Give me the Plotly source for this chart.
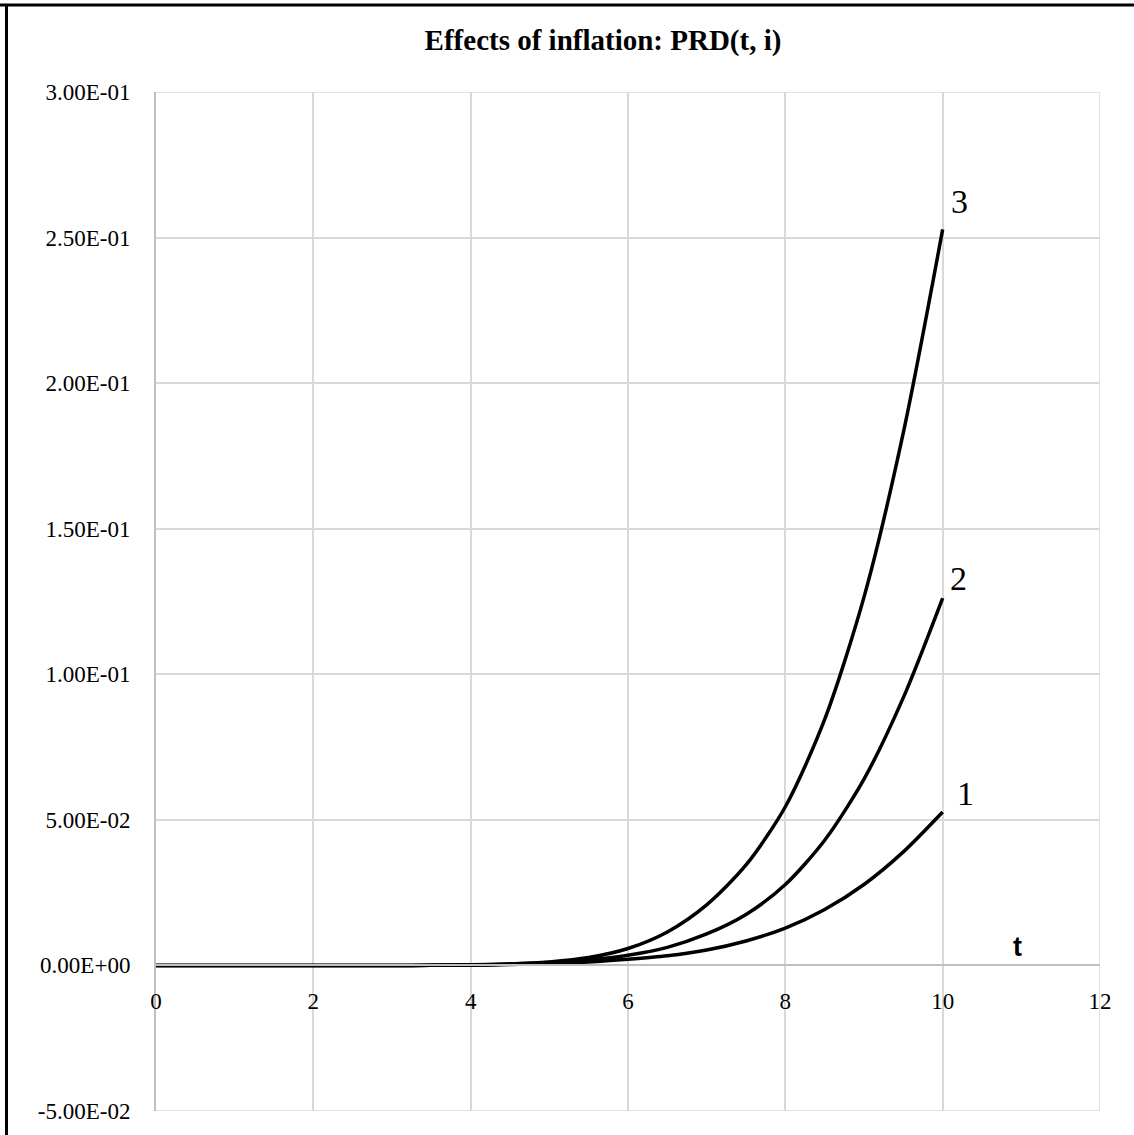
import plotly.graph_objects as go

# ---- data ----
t_vals = [0, 0.5, 1, 1.5, 2, 2.5, 3, 3.5, 4, 4.5, 5, 5.5, 6, 6.5, 7, 7.5, 8, 8.5, 9, 9.5, 10]
prd_1 = [0, 0, 0, 0, 0, 0, 0, 0.00003, 0.0001, 0.0003, 0.0007, 0.0012, 0.0021, 0.0033, 0.0053,
         0.0084, 0.0128, 0.0192, 0.0278, 0.0390, 0.0527]
prd_2 = [0, 0, 0, 0, 0, 0, 0, 0.00004, 0.0002, 0.0005, 0.0010, 0.0019, 0.0035, 0.0062, 0.0108,
         0.0175, 0.0278, 0.0430, 0.0640, 0.0920, 0.1262]
prd_3 = [0, 0, 0, 0, 0, 0, 0, 0.00005, 0.0002, 0.0005, 0.0012, 0.0027, 0.0058, 0.0115, 0.0208,
         0.0345, 0.0545, 0.0845, 0.1265, 0.1830, 0.2528]
series = [("1", prd_1), ("2", prd_2), ("3", prd_3)]

x_ticks = [0, 2, 4, 6, 8, 10, 12]
y_ticks = [-0.05, 0, 0.05, 0.10, 0.15, 0.20, 0.25, 0.30]
y_tick_text = ["-5.00E-02", "0.00E+00", "5.00E-02", "1.00E-01", "1.50E-01",
               "2.00E-01", "2.50E-01", "3.00E-01"]
title_text = "Effects of inflation: PRD(t, i)"
x_label = "t"

SERIF = "Liberation Serif, Times New Roman, serif"
SANS = "Liberation Sans, Arial, sans-serif"

W, H = 1134, 1135
ML, MR, MT, MB = 156, 34, 92, 24
PW, PH = W - ML - MR, H - MT - MB

fig = go.Figure()
for name, vals in series:
    fig.add_trace(go.Scatter(
        x=t_vals, y=vals, mode="lines", name=name,
        line=dict(color="black", width=3.5, shape="spline", smoothing=0.8),
        showlegend=False, hoverinfo="skip"))

# curve labels at line ends
label_shift = {"1": (23, 19), "2": (16, 20), "3": (17, 28)}
for name, vals in series:
    dx, dy = label_shift[name]
    fig.add_annotation(x=t_vals[-1], y=vals[-1], text=name, showarrow=False,
                       xanchor="center", yanchor="middle", xshift=dx, yshift=dy,
                       font=dict(family=SERIF, size=34, color="black"))

# axis name "t"
fig.add_annotation(x=11, y=0, text="<b>" + x_label + "</b>", showarrow=False,
                   xanchor="center", yanchor="bottom", xshift=-4, yshift=1,
                   font=dict(family=SANS, size=27, color="black"))

y_min, y_max = y_ticks[0], y_ticks[-1]
x_min, x_max = x_ticks[0], x_ticks[-1]
zero_pos = (0 - y_min) / (y_max - y_min)

grid_col = "#d9d9d9"
shapes = [
    # edge gridlines that plotly omits
    dict(type="line", xref="x", yref="y", x0=x_min, x1=x_max, y0=y_max, y1=y_max,
         line=dict(color=grid_col, width=1.5), layer="below"),
    dict(type="line", xref="x", yref="y", x0=x_min, x1=x_max, y0=y_min, y1=y_min,
         line=dict(color=grid_col, width=1.5), layer="below"),
    dict(type="line", xref="x", yref="y", x0=x_max, x1=x_max, y0=y_min, y1=y_max,
         line=dict(color=grid_col, width=1.5), layer="below"),
    # outer frame (top and left)
    dict(type="line", xref="paper", yref="paper", x0=(0 - ML) / PW, x1=(W - ML) / PW,
         y0=1 + (MT - 5) / PH, y1=1 + (MT - 5) / PH, line=dict(color="black", width=3)),
    dict(type="line", xref="paper", yref="paper", x0=(6.5 - ML) / PW, x1=(6.5 - ML) / PW,
         y0=-MB / PH, y1=1 + (MT - 5) / PH, line=dict(color="black", width=3)),
]

fig.update_layout(
    width=W, height=H,
    margin=dict(l=ML, r=MR, t=MT, b=MB),
    paper_bgcolor="white", plot_bgcolor="white",
    title=dict(text="<b>" + title_text + "</b>", x=603 / W, xref="container", xanchor="center",
               y=1 - 40 / H, yref="container", yanchor="middle",
               font=dict(family=SERIF, size=29, color="black")),
    xaxis=dict(range=[x_min, x_max], tickvals=x_ticks, ticktext=[str(v) for v in x_ticks],
               anchor="free", position=zero_pos,
               showgrid=True, gridcolor=grid_col, gridwidth=1.5,
               showline=True, linecolor="#bfbfbf", linewidth=2,
               zeroline=False, ticks="", ticklabelstandoff=15,
               tickfont=dict(family=SERIF, size=23, color="black")),
    yaxis=dict(range=[y_min, y_max], tickvals=y_ticks, ticktext=y_tick_text,
               showgrid=True, gridcolor=grid_col, gridwidth=1.5,
               showline=True, linecolor="#bfbfbf", linewidth=2,
               zeroline=False, ticks="", ticklabelstandoff=19,
               tickfont=dict(family=SERIF, size=23, color="black")),
    shapes=shapes,
)

fig.write_html("out.html", config={"displayModeBar": False},
               post_script="document.body.style.margin='0';document.body.style.overflow='hidden';")
